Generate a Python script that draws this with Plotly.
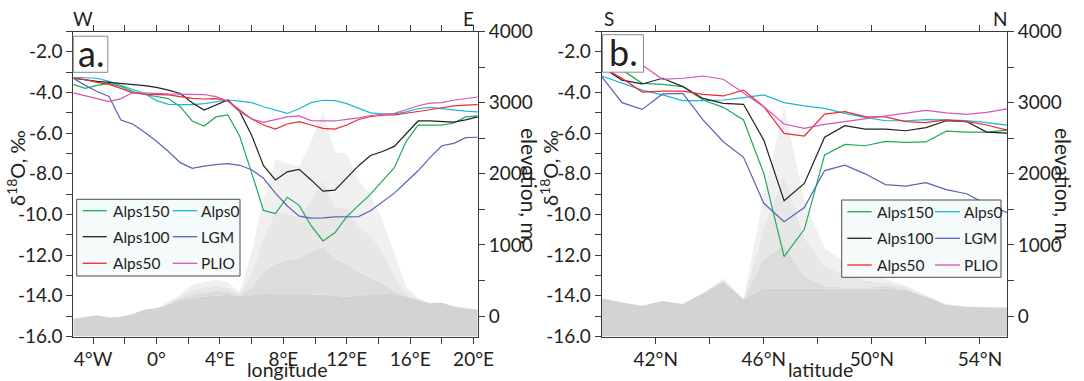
import plotly.graph_objects as go

W, H = 1084, 381
FONT = "Lato"
TXT = "#231f20"
AX = "#3a3a3a"

# ---------------- data: panel a (W-E transect) ----------------
lon = [-5.25, -4.5, -3.75, -3.0, -2.25, -1.5, -0.75, 0, 0.75, 1.5, 2.25, 3.0, 3.75, 4.5,
       5.25, 6.0, 6.75, 7.5, 8.25, 9.0, 9.75, 10.5, 11.25, 12.0, 12.75, 13.5, 14.25, 15.0,
       15.75, 16.5, 17.25, 18.0, 18.75, 19.5, 20.25]

a_alps150 = [-3.6, -3.8, -3.65, -3.55, -3.7, -3.95, -4.1, -4.2, -4.3, -4.7, -5.4, -5.65, -5.2, -5.1,
             -6.15, -7.95, -9.8, -9.95, -9.15, -9.55, -10.55, -11.3, -10.9, -10.1, -9.55, -9.0, -8.35, -7.7,
             -6.4, -5.6, -5.6, -5.6, -5.5, -5.2, -5.15]
a_alps0 = [-3.25, -3.27, -3.3, -3.45, -3.65, -3.85, -4.05, -4.4, -4.58, -4.6, -4.6, -4.55, -4.45, -4.37,
           -4.42, -4.5, -4.7, -4.85, -5.03, -4.8, -4.5, -4.38, -4.4, -4.55, -4.78, -5.0, -5.05, -5.05,
           -4.95, -4.8, -4.73, -4.78, -4.85, -4.92, -4.95]
a_alps100 = [-3.3, -3.38, -3.45, -3.5, -3.55, -3.6, -3.66, -3.75, -3.88, -4.05, -4.5, -4.86, -4.6, -4.37,
             -4.94, -6.1, -7.6, -8.3, -7.9, -7.78, -8.3, -8.85, -8.8, -8.22, -7.6, -7.1, -6.9, -6.65,
             -6.0, -5.4, -5.4, -5.43, -5.46, -5.35, -5.2]
a_lgm = [-3.3, -3.65, -3.95, -4.2, -5.35, -5.55, -5.95, -6.4, -6.9, -7.45, -7.73, -7.62, -7.55, -7.5,
         -7.58, -7.8, -8.22, -8.95, -9.58, -10.08, -10.18, -10.17, -10.12, -10.1, -10.1, -9.82, -9.4, -8.95,
         -8.4, -7.85, -7.2, -6.62, -6.5, -6.22, -6.2]
a_alps50 = [-3.3, -3.37, -3.5, -3.6, -3.8, -4.02, -4.08, -4.1, -4.12, -4.2, -4.29, -4.32, -4.3, -4.42,
            -4.85, -5.3, -5.6, -5.8, -5.55, -5.43, -5.6, -5.76, -5.8, -5.6, -5.33, -5.18, -5.12, -5.1,
            -5.02, -4.95, -4.85, -4.75, -4.66, -4.62, -4.6]
a_plio = [-4.02, -4.15, -4.3, -4.45, -4.3, -4.0, -4.03, -4.05, -4.07, -4.08, -4.09, -4.1, -4.2, -4.42,
          -4.95, -5.3, -5.47, -5.35, -5.2, -5.15, -5.38, -5.4, -5.4, -5.32, -5.25, -5.13, -5.08, -5.02,
          -4.85, -4.65, -4.52, -4.5, -4.38, -4.3, -4.22]

# elevation layers (m), darkest/lowest first
a_topo1 = [-40, -10, 10, -20, -10, 30, 90, 110, 160, 230, 255, 272, 290, 295, 285, 305, 310, 310, 310,
           310, 305, 298, 290, 272, 290, 310, 315, 305, 275, 230, 180, 185, 135, 110, 90]
a_topo2 = [-40, -10, 10, -20, -10, 30, 90, 110, 170, 255, 300, 330, 355, 340, 300, 400, 620, 740, 790,
           800, 905, 975, 800, 740, 620, 540, 460, 340, 285, 235, 180, 185, 135, 110, 90]
a_topo3 = [-40, -10, 10, -20, -10, 30, 90, 110, 185, 275, 370, 400, 430, 400, 305, 600, 1100, 1470, 1430,
           1400, 1620, 1920, 1530, 1520, 1270, 1130, 900, 570, 330, 240, 180, 185, 135, 110, 90]
a_topo4 = [-40, -10, 10, -20, -10, 30, 90, 110, 200, 300, 440, 480, 510, 470, 330, 900, 1650, 2200, 2150,
           2100, 2450, 2880, 2300, 2290, 1900, 1700, 1350, 880, 420, 250, 185, 185, 135, 110, 90]

# ---------------- data: panel b (S-N transect) ----------------
lat = [40.0, 40.75, 41.5, 42.25, 43.0, 43.75, 44.5, 45.25, 46.0, 46.75, 47.5, 48.25, 49.0, 49.75,
       50.5, 51.25, 52.0, 52.75, 53.5, 54.25, 55.0]

b_alps150 = [-2.73, -2.89, -3.55, -3.6, -3.71, -4.37, -4.73, -5.35, -7.98, -12.07, -10.73, -7.07, -6.55,
             -6.62, -6.4, -6.45, -6.43, -5.9, -5.95, -5.95, -5.85]
b_alps0 = [-3.19, -3.55, -3.88, -4.12, -4.4, -4.4, -4.37, -4.25, -4.12, -4.5, -4.66, -4.78, -5.03,
           -5.22, -5.39, -5.39, -5.33, -5.35, -5.38, -5.48, -5.6]
b_alps100 = [-2.73, -3.39, -3.58, -3.3, -3.71, -4.29, -4.53, -4.58, -6.34, -9.32, -8.47, -6.2, -5.63,
             -5.8, -5.8, -5.88, -5.73, -5.39, -5.43, -5.95, -6.0]
b_lgm = [-3.22, -4.5, -4.83, -4.07, -4.04, -5.35, -6.42, -7.19, -9.45, -10.35, -9.66, -7.84, -7.57,
         -8.0, -8.53, -8.6, -8.43, -8.78, -8.98, -9.5, -9.9]
b_alps50 = [-2.73, -3.3, -3.98, -3.93, -3.93, -4.09, -4.17, -3.88, -4.7, -6.01, -6.14, -5.06, -4.94,
            -5.19, -5.2, -5.43, -5.48, -5.35, -5.43, -5.6, -5.85]
b_plio = [-1.8, -2.2, -2.65, -3.35, -3.3, -3.19, -3.35, -4.01, -4.7, -5.55, -5.76, -5.57, -5.43,
          -5.3, -5.15, -5.0, -4.88, -5.0, -5.08, -4.98, -4.8]

b_topo1 = [250, 190, 145, 210, 170, 320, 490, 234, 390, 390, 390, 390, 390, 390, 385, 366, 272, 160, 131, 122, 120]
b_topo2 = [250, 190, 145, 210, 170, 320, 495, 234, 800, 1000, 560, 420, 400, 395, 430, 380, 275, 160, 131, 122, 120]
b_topo3 = [250, 190, 145, 210, 170, 320, 510, 234, 1250, 1980, 1100, 700, 580, 500, 470, 410, 285, 165, 131, 122, 120]
b_topo4 = [250, 190, 145, 210, 170, 320, 530, 234, 1700, 2945, 1620, 950, 760, 620, 520, 430, 295, 170, 131, 122, 120]

series_names = ["Alps150", "Alps0", "Alps100", "LGM", "Alps50", "PLIO"]
series_colors = ["#1dab57", "#1cb6d8", "#231f20", "#5565b8", "#ee2a2f", "#d357b3"]
topo_colors = ["#d3d3d3", "#dcdcdc", "#e7e7e7", "#f0f0f0"]

d18o_ticks = [-16, -14, -12, -10, -8, -6, -4, -2]
d18o_labels = ["-16.0", "-14.0", "-12.0", "-10.0", "-8.0", "-6.0", "-4.0", "-2.0"]
elev_ticks = [0, 1000, 2000, 3000, 4000]
elev_labels = ["0", "1000", "2000", "3000", "4000"]
lon_ticks = [-4, -2, 0, 2, 4, 6, 8, 10, 12, 14, 16, 18, 20]
lon_labels = ["4°W", " ", "0°", " ", "4°E", " ", "8°E", " ", "12°E", " ", "16°E", " ", "20°E"]
lat_ticks = [42, 44, 46, 48, 50, 52, 54]
lat_labels = ["42°N", " ", "46°N", " ", "50°N", " ", "54°N"]

D18O_RANGE = [-16, -1]
ELEV_RANGE = [-288, 4000]
LON_RANGE = [-5.25, 20.28]
LAT_RANGE = [40, 55]


def px(x):
    return x / W


def py(y):
    return 1 - y / H


fig = go.Figure()


def add_panel(xs, topos, lines, xref, yelev, yd):
    # baseline at bottom of elevation axis, then nested layers
    fig.add_trace(go.Scatter(x=xs, y=[ELEV_RANGE[0]] * len(xs), mode="lines",
                             line=dict(width=0, color="rgba(0,0,0,0)"), showlegend=False,
                             hoverinfo="skip", xaxis=xref, yaxis=yelev))
    for t, c in zip(topos, topo_colors):
        fig.add_trace(go.Scatter(x=xs, y=t, mode="lines", fill="tonexty", fillcolor=c,
                                 line=dict(width=0, color=c), showlegend=False,
                                 hoverinfo="skip", xaxis=xref, yaxis=yelev))
    for name, vals, c in zip(series_names, lines, series_colors):
        fig.add_trace(go.Scatter(x=xs, y=vals, mode="lines", name=name,
                                 line=dict(width=1.2, color=c), showlegend=False,
                                 xaxis=xref, yaxis=yd))


add_panel(lon, [a_topo1, a_topo2, a_topo3, a_topo4],
          [a_alps150, a_alps0, a_alps100, a_lgm, a_alps50, a_plio], "x", "y", "y2")
add_panel(lat, [b_topo1, b_topo2, b_topo3, b_topo4],
          [b_alps150, b_alps0, b_alps100, b_lgm, b_alps50, b_plio], "x2", "y3", "y4")

XA_DOM = [px(73.3), px(478)]
XB_DOM = [px(601.7), px(1007)]
Y_DOM = [py(336.5), py(31.5)]

tickfont = dict(family=FONT, size=19, color=TXT)
common = dict(showgrid=False, zeroline=False, showline=True, linecolor=AX, linewidth=1,
              ticks="outside", tickcolor=AX, tickwidth=1, tickfont=tickfont, automargin=False)


def xax(dom, rng, tv, tt, anchor):
    return dict(domain=dom, range=rng, tickmode="array", tickvals=tv, ticktext=tt,
                ticklen=6, mirror="ticks", anchor=anchor, **common)


def elevax(anchor):
    return dict(domain=Y_DOM, range=ELEV_RANGE, side="right", anchor=anchor, tickmode="array",
                tickvals=elev_ticks, ticktext=elev_labels, ticklen=6,
                minor=dict(dtick=500, tick0=0, ticks="outside", ticklen=6, tickcolor=AX, tickwidth=1),
                **common)


def dax(overlay, anchor):
    return dict(range=D18O_RANGE, side="left", overlaying=overlay, anchor=anchor, tickmode="array",
                tickvals=d18o_ticks, ticktext=d18o_labels, ticklen=6,
                minor=dict(dtick=1, tick0=0, ticks="outside", ticklen=6, tickcolor=AX, tickwidth=1),
                **common)


fig.update_layout(
    template="none",
    width=W, height=H, autosize=False,
    margin=dict(l=0, r=0, t=0, b=0, pad=0),
    paper_bgcolor="white", plot_bgcolor="rgba(0,0,0,0)",
    font=dict(family=FONT, color=TXT),
    hovermode=False,
    xaxis=xax(XA_DOM, LON_RANGE, lon_ticks, lon_labels, "y"),
    yaxis=elevax("x"),
    yaxis2=dax("y", "x"),
    xaxis2=xax(XB_DOM, LAT_RANGE, lat_ticks, lat_labels, "y3"),
    yaxis3=elevax("x2"),
    yaxis4=dax("y3", "x2"),
)

shapes = []
annots = []


def txt(x, y, s, size, angle=0, xanchor="center", yanchor="middle"):
    annots.append(dict(x=px(x), y=py(y), xref="paper", yref="paper", text=s, showarrow=False,
                       textangle=angle, xanchor=xanchor, yanchor=yanchor,
                       font=dict(family=FONT, size=size, color=TXT)))


# panel letters in boxes
for (x0, y0, x1, y1, lab) in [(73.3, 36.2, 107.8, 72.3, "a."), (602.5, 34.7, 643.5, 72.2, "b.")]:
    shapes.append(dict(type="rect", xref="paper", yref="paper", x0=px(x0), x1=px(x1),
                       y0=py(y1), y1=py(y0), line=dict(color="#8a8a8a", width=1),
                       fillcolor="white", layer="above"))
    txt((x0 + x1) / 2, (y0 + y1) / 2 - 1, lab, 36)

# legends
legend_specs = [
    dict(box=(76.7, 199.3, 240, 276), rows=[210.7, 236.7, 263.3],
         cols=[(82.7, 106.7, 110.7), (172.7, 197.3, 198.5)]),
    dict(box=(841.7, 200, 1001, 277.3), rows=[211.7, 238.3, 265],
         cols=[(847.3, 871.7, 875), (935, 960, 961.7)]),
]
for spec in legend_specs:
    bx0, by0, bx1, by1 = spec["box"]
    shapes.append(dict(type="rect", xref="paper", yref="paper", x0=px(bx0), x1=px(bx1),
                       y0=py(by1), y1=py(by0), line=dict(color="#4a4a4a", width=1),
                       fillcolor="#f5fafb", layer="above"))
    for i, (name, c) in enumerate(zip(series_names, series_colors)):
        r, col = divmod(i, 2)
        lx0, lx1, tx = spec["cols"][col]
        yy = spec["rows"][r]
        shapes.append(dict(type="line", xref="paper", yref="paper", x0=px(lx0), x1=px(lx1),
                           y0=py(yy), y1=py(yy), line=dict(color=c, width=1.3), layer="above"))
        txt(tx, yy, name, 15.5, xanchor="left")

# direction labels
txt(82.6, 19, "W", 19)
txt(468, 19, "E", 19)
txt(609.4, 19, "S", 19)
txt(1000, 19, "N", 19)

# axis titles
txt(286.7, 369.5, "longitude", 19.5)
txt(820.4, 369.5, "latitude", 19.5)
txt(16, 168, "δ<sup>18</sup>O, ‰", 20, angle=-90)
txt(549, 168, "δ<sup>18</sup>O, ‰", 20, angle=-90)
txt(530, 186, "elevation, m.", 21, angle=90)
txt(1064, 186, "elevation, m.", 21, angle=90)

fig.update_layout(shapes=shapes, annotations=annots)
fig.write_html("out.html", config={"displayModeBar": False},
               post_script="document.body.style.margin='0px';document.body.style.overflow='hidden';")
